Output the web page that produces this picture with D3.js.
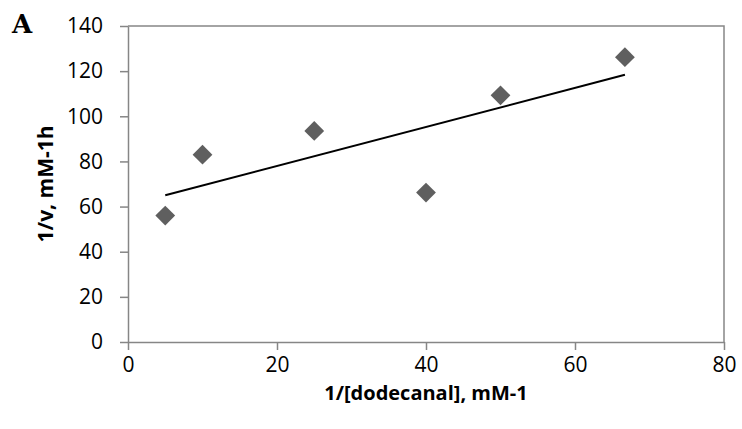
<!DOCTYPE html>
<html>
<head>
<meta charset="utf-8">
<script src="https://cdn.jsdelivr.net/npm/d3@7"></script>
<style>
  body { margin: 0; background: #fff; }
  svg { display: block; }
</style>
</head>
<body>
<svg id="chart"></svg>
<script>
// values
const xValues = [5, 10, 25, 40, 50, 66.7];
const yValues = [56, 83, 93.5, 66.2, 109.3, 126.2];
const xTicks = [0, 20, 40, 60, 80];
const yTicks = [0, 20, 40, 60, 80, 100, 120, 140];
const xTitle = "1/[dodecanal], mM-1";
const yTitle = "1/v, mM-1h";
const panelLabel = "A";

const points = xValues.map((x, i) => ({ x: x, y: yValues[i] }));

// least squares trendline, like the spreadsheet one
const mx = d3.mean(xValues), my = d3.mean(yValues);
const slope = d3.sum(points, p => (p.x - mx) * (p.y - my)) / d3.sum(points, p => (p.x - mx) ** 2);
const intercept = my - slope * mx;
const trend = d3.extent(xValues).map(x => ({ x: x, y: intercept + slope * x }));

const W = 742, H = 429;
const plotL = 128, plotR = 724, plotT = 26, plotB = 342;
const axisColor = "#868686";
const font = "'Open Sans', sans-serif";

const svg = d3.select("#chart").attr("width", W).attr("height", H);

const x = d3.scaleLinear().domain([0, 80]).range([plotL, plotR]);
const y = d3.scaleLinear().domain([0, 140]).range([plotB, plotT]);

// frame top + right
svg.append("path")
    .attr("d", `M${plotL},${plotT}H${plotR}V${plotB}`)
    .attr("fill", "none")
    .attr("stroke", axisColor)
    .attr("stroke-width", 1.5);

const yAxis = svg.append("g")
    .attr("transform", `translate(${plotL},0)`)
    .call(d3.axisLeft(y).tickValues(yTicks).tickSize(8).tickPadding(17).tickSizeOuter(0));

const xAxis = svg.append("g")
    .attr("transform", `translate(0,${plotB})`)
    .call(d3.axisBottom(x).tickValues(xTicks).tickSize(8).tickPadding(7).tickSizeOuter(0));

[xAxis, yAxis].forEach(g => {
    g.select(".domain").attr("stroke", axisColor).attr("stroke-width", 1.5);
    g.selectAll(".tick line").attr("stroke", axisColor).attr("stroke-width", 1.5);
    g.selectAll(".tick text")
        .attr("fill", "#000")
        .style("font-family", font)
        .style("font-size", "21px");
});

// trendline
svg.append("path")
    .datum(trend)
    .attr("d", d3.line().x(d => x(d.x)).y(d => y(d.y)))
    .attr("fill", "none")
    .attr("stroke", "#000")
    .attr("stroke-width", 2);

// diamond markers
svg.selectAll(".pt")
    .data(points)
    .enter()
    .append("path")
    .attr("class", "pt")
    .attr("d", d3.symbol(d3.symbolSquare, 196))
    .attr("transform", d => `translate(${x(d.x)},${y(d.y)}) rotate(45)`)
    .attr("fill", "#5f5f5f");

// axis titles
svg.append("text")
    .attr("x", (plotL + plotR) / 2)
    .attr("y", 400)
    .attr("text-anchor", "middle")
    .style("font-family", font)
    .style("font-weight", "bold")
    .style("font-size", "20px")
    .text(xTitle);

svg.append("text")
    .attr("transform", `translate(53,${(plotT + plotB) / 2}) rotate(-90)`)
    .attr("text-anchor", "middle")
    .style("font-family", font)
    .style("font-weight", "bold")
    .style("font-size", "21px")
    .text(yTitle);

svg.append("text")
    .attr("x", 12)
    .attr("y", 33)
    .style("font-family", "'DejaVu Serif', serif")
    .style("font-weight", "bold")
    .style("font-size", "26px")
    .text(panelLabel);
</script>
</body>
</html>
